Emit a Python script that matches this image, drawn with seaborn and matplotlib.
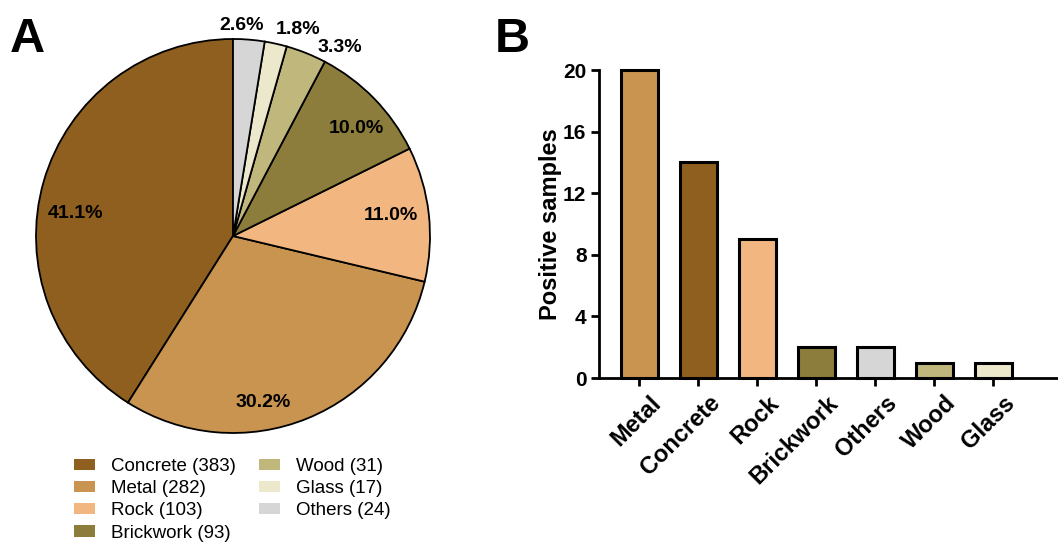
import matplotlib
matplotlib.use("Agg")
import numpy as np
import pandas as pd
import matplotlib.pyplot as plt
import matplotlib.transforms as mtransforms
import seaborn as sns
from matplotlib.patches import Patch

# datos del panel A (pie)
materiales = ["Concrete", "Metal", "Rock", "Brickwork", "Wood", "Glass", "Others"]
conteos = [383, 282, 103, 93, 31, 17, 24]
porcentajes = ["41.1%", "30.2%", "11.0%", "10.0%", "3.3%", "1.8%", "2.6%"]

# datos del panel B (barras)
barras_cat = ["Metal", "Concrete", "Rock", "Brickwork", "Others", "Wood", "Glass"]
positivos = [20, 14, 9, 2, 2, 1, 1]

colores = {
    "Concrete": "#8F5F1F",
    "Metal": "#C8944F",
    "Rock": "#F2B780",
    "Brickwork": "#8C7D3C",
    "Wood": "#C0B77D",
    "Glass": "#ECE8CC",
    "Others": "#D6D6D6",
}

sns.set_style("white")
plt.rcParams['font.family'] = ['Liberation Sans', 'DejaVu Sans']
plt.rcParams['text.color'] = 'black'
plt.rcParams['axes.labelcolor'] = 'black'
plt.rcParams['xtick.color'] = 'black'
plt.rcParams['ytick.color'] = 'black'

fig = plt.figure(figsize=(10.58, 5.44), dpi=100)

# ---- A: pie ----
ax1 = fig.add_axes([36 / 1058, 111 / 544, 394 / 1058, 394 / 544])
wedges, _ = ax1.pie(conteos, colors=[colores[m] for m in materiales],
                    startangle=90, counterclock=True,
                    wedgeprops=dict(edgecolor="black", linewidth=1.3))
ax1.set_xlim(-1, 1)
ax1.set_ylim(-1, 1)
ax1.set_aspect("equal")

# ajuste de cada etiqueta: (desfase angular, distancia al centro)
ajuste = [(8, 0.81), (-12, 0.86), (1, 0.81), (-3, 0.83),
          (-7.6, 1.10), (-5, 1.10), (2.4, 1.07)]
for w, txt, (d, dist) in zip(wedges, porcentajes, ajuste):
    ang = np.deg2rad((w.theta1 + w.theta2) / 2 + d)
    ax1.text(dist * np.cos(ang), dist * np.sin(ang), txt, ha="center", va="center",
             fontsize=14, fontweight="bold", clip_on=False)

handles = [Patch(facecolor=colores[m], edgecolor="none", label=f"{m} ({n})")
           for m, n in zip(materiales, conteos)]
fig.legend(handles=handles, ncol=2, frameon=False, loc="upper left",
           bbox_to_anchor=(57 / 1058, 1 - 441 / 544), fontsize=13.5,
           handlelength=1.15, handleheight=0.55, handletextpad=0.85,
           labelspacing=0.28, columnspacing=1.2)

fig.text(10 / 1058, 1 - 40 / 544, "A", fontsize=35, fontweight="bold", va="center")
fig.text(495 / 1058, 1 - 40 / 544, "B", fontsize=35, fontweight="bold", va="center")

# ---- B: barras ----
df = pd.DataFrame({"Material": barras_cat, "Positivos": positivos})
ax2 = fig.add_axes([599 / 1058, 166 / 544, 459 / 1058, 308 / 544])
sns.barplot(data=df, x="Material", y="Positivos", hue="Material",
            palette=colores, saturation=1, edgecolor="black", linewidth=2.2,
            width=0.63, legend=False, ax=ax2)
for p in ax2.patches:
    p.set_clip_on(False)
ax2.set_ylim(0, 20)
ax2.set_xlim(-0.68, 7.1)
ax2.set_yticks([0, 4, 8, 12, 16, 20])
ax2.set_xlabel("")
ax2.set_ylabel("Positive samples", fontsize=17, fontweight="bold", labelpad=1)
ax2.tick_params(axis="both", direction="out", length=6, width=2, color="black",
                bottom=True, left=True)
ax2.tick_params(axis="y", labelsize=15, pad=3)
ax2.tick_params(axis="x", labelsize=17)
for lab in ax2.get_yticklabels():
    lab.set_fontweight("bold")
off = mtransforms.ScaledTranslation(10 / 100, 0, fig.dpi_scale_trans)
for lab in ax2.get_xticklabels():
    lab.set_fontweight("bold")
    lab.set_rotation(45)
    lab.set_ha("right")
    lab.set_rotation_mode("anchor")
    lab.set_transform(lab.get_transform() + off)
for s in ["top", "right"]:
    ax2.spines[s].set_visible(False)
for s in ["left", "bottom"]:
    ax2.spines[s].set_linewidth(2)
    ax2.spines[s].set_color("black")

fig.savefig("out.png", dpi=100)
